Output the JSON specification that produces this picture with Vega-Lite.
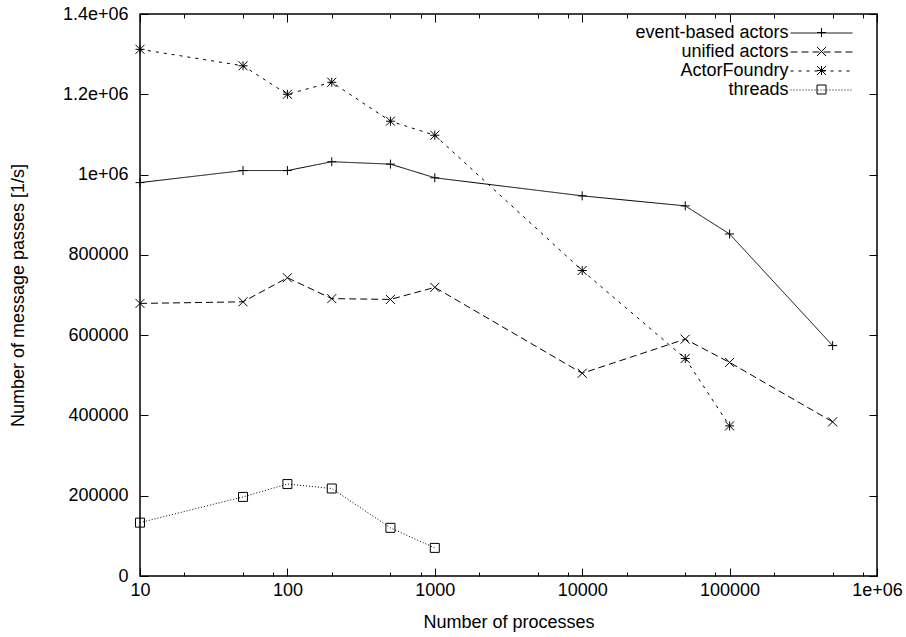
{
  "$schema": "https://vega.github.io/schema/vega-lite/v6.json",
  "width": 737,
  "height": 562,
  "autosize": {"type": "none"},
  "padding": {"left": 140, "top": 14, "right": 29, "bottom": 61},
  "background": "white",
  "config": {
    "view": {"stroke": "black", "strokeWidth": 1.5},
    "font": "Liberation Sans",
    "axis": {
      "domain": false,
      "grid": false,
      "tickColor": "black",
      "tickWidth": 1,
      "labelColor": "black",
      "titleColor": "black",
      "labelFont": "Liberation Sans",
      "titleFont": "Liberation Sans",
      "labelFontSize": 18,
      "titleFontSize": 18,
      "titleFontWeight": "normal"
    }
  },
  "data": {
    "values": [
      {"series": "event-based actors", "n": 10, "rate": 980000},
      {"series": "event-based actors", "n": 50, "rate": 1010000},
      {"series": "event-based actors", "n": 100, "rate": 1010000},
      {"series": "event-based actors", "n": 200, "rate": 1032000},
      {"series": "event-based actors", "n": 500, "rate": 1026000},
      {"series": "event-based actors", "n": 1000, "rate": 992000},
      {"series": "event-based actors", "n": 10000, "rate": 947000},
      {"series": "event-based actors", "n": 50000, "rate": 922000},
      {"series": "event-based actors", "n": 100000, "rate": 852000},
      {"series": "event-based actors", "n": 500000, "rate": 574000},
      {"series": "unified actors", "n": 10, "rate": 679000},
      {"series": "unified actors", "n": 50, "rate": 683000},
      {"series": "unified actors", "n": 100, "rate": 743000},
      {"series": "unified actors", "n": 200, "rate": 691000},
      {"series": "unified actors", "n": 500, "rate": 689000},
      {"series": "unified actors", "n": 1000, "rate": 719000},
      {"series": "unified actors", "n": 10000, "rate": 505000},
      {"series": "unified actors", "n": 50000, "rate": 590000},
      {"series": "unified actors", "n": 100000, "rate": 532000},
      {"series": "unified actors", "n": 500000, "rate": 384000},
      {"series": "ActorFoundry", "n": 10, "rate": 1312000},
      {"series": "ActorFoundry", "n": 50, "rate": 1271000},
      {"series": "ActorFoundry", "n": 100, "rate": 1200000},
      {"series": "ActorFoundry", "n": 200, "rate": 1230000},
      {"series": "ActorFoundry", "n": 500, "rate": 1133000},
      {"series": "ActorFoundry", "n": 1000, "rate": 1098000},
      {"series": "ActorFoundry", "n": 10000, "rate": 761000},
      {"series": "ActorFoundry", "n": 50000, "rate": 542000},
      {"series": "ActorFoundry", "n": 100000, "rate": 374000},
      {"series": "threads", "n": 10, "rate": 133000},
      {"series": "threads", "n": 50, "rate": 197000},
      {"series": "threads", "n": 100, "rate": 229000},
      {"series": "threads", "n": 200, "rate": 218000},
      {"series": "threads", "n": 500, "rate": 120000},
      {"series": "threads", "n": 1000, "rate": 70000}
    ]
  },
  "resolve": {"axis": {"x": "independent", "y": "independent"}},
  "layer": [
    {
      "mark": {"type": "line", "color": "black", "strokeWidth": 1},
      "encoding": {
        "x": {
          "field": "n", "type": "quantitative",
          "scale": {"type": "log", "domain": [10, 1000000], "nice": false},
          "axis": {
            "orient": "bottom",
            "values": [10, 100, 1000, 10000, 100000, 1000000],
            "tickSize": -8,
            "labelPadding": 13,
            "labelFlush": false,
            "labelOverlap": false,
            "labelExpr": "datum.value >= 1000000 ? '1e+06' : format(datum.value, 'd')",
            "title": "Number of processes",
            "titleX": 368.5,
            "titleY": 46,
            "titleAlign": "center",
            "titleBaseline": "middle"
          }
        },
        "y": {
          "field": "rate", "type": "quantitative",
          "scale": {"domain": [0, 1400000], "nice": false},
          "axis": {
            "orient": "left",
            "values": [0, 200000, 400000, 600000, 800000, 1000000, 1200000, 1400000],
            "tickSize": -8,
            "labelPadding": 20,
            "labelOverlap": false,
            "labelFlush": false,
            "labelExpr": "datum.value == 1400000 ? '1.4e+06' : datum.value == 1200000 ? '1.2e+06' : datum.value == 1000000 ? '1e+06' : format(datum.value, 'd')",
            "title": "Number of message passes [1/s]",
            "titleX": -122,
            "titleY": 281,
            "titleAlign": "center",
            "titleBaseline": "middle"
          }
        },
        "strokeDash": {
          "field": "series", "type": "nominal",
          "scale": {
            "domain": ["event-based actors", "unified actors", "ActorFoundry", "threads"],
            "range": [[1, 0], [7, 4], [3, 5], [1, 2]]
          },
          "legend": {
            "orient": "none",
            "legendX": 650,
            "legendY": 9,
            "title": null,
            "padding": 0,
            "symbolType": "M-3.26,0H3.26",
            "symbolSize": 361,
            "symbolStrokeWidth": 1,
            "symbolStrokeColor": "black",
            "symbolFillColor": "transparent",
            "symbolOffset": 21.5,
            "rowPadding": 0,
            "labelAlign": "right",
            "labelOffset": -43,
            "labelFont": "Liberation Sans",
            "labelFontSize": 18,
            "labelColor": "black",
            "labelLimit": 400
          }
        }
      }
    },
    {
      "mark": {"type": "point", "filled": false, "color": "black", "strokeWidth": 1, "size": 81, "opacity": 1},
      "encoding": {
        "x": {
          "field": "n", "type": "quantitative",
          "axis": {"orient": "top", "values": [10, 100, 1000, 10000, 100000, 1000000], "tickSize": -8, "labels": false, "title": null}
        },
        "y": {
          "field": "rate", "type": "quantitative",
          "axis": {"orient": "right", "values": [0, 200000, 400000, 600000, 800000, 1000000, 1200000, 1400000], "tickSize": -8, "labels": false, "title": null}
        },
        "shape": {
          "field": "series", "type": "nominal",
          "sort": ["event-based actors", "unified actors", "ActorFoundry", "threads"],
          "scale": {
            "range": [
              "M-1,0H1M0,-1V1",
              "M-1,-1L1,1M-1,1L1,-1",
              "M-1,0H1M0,-1V1M-1,-1L1,1M-1,1L1,-1",
              "square"
            ]
          },
          "legend": {
            "orient": "none",
            "legendX": 650,
            "legendY": 9,
            "title": null,
            "padding": 0,
            "symbolSize": 81,
            "symbolStrokeWidth": 1,
            "symbolStrokeColor": "black",
            "symbolFillColor": "transparent",
            "clipHeight": 19,
            "rowPadding": 0,
            "symbolOffset": 26.5,
            "labelExpr": "''"
          }
        }
      }
    },
    {
      "mark": {"type": "point", "opacity": 0},
      "encoding": {
        "x": {
          "field": "n", "type": "quantitative",
          "axis": {"orient": "bottom", "values": [20, 50, 80, 200, 500, 800, 2000, 5000, 8000, 20000, 50000, 80000, 200000, 500000, 800000], "tickSize": -4, "labels": false, "title": null}
        },
        "y": {"field": "rate", "type": "quantitative", "axis": null}
      }
    },
    {
      "mark": {"type": "point", "opacity": 0},
      "encoding": {
        "x": {
          "field": "n", "type": "quantitative",
          "axis": {"orient": "top", "values": [20, 50, 80, 200, 500, 800, 2000, 5000, 8000, 20000, 50000, 80000, 200000, 500000, 800000], "tickSize": -4, "labels": false, "title": null}
        },
        "y": {"field": "rate", "type": "quantitative", "axis": null}
      }
    }
  ]
}
